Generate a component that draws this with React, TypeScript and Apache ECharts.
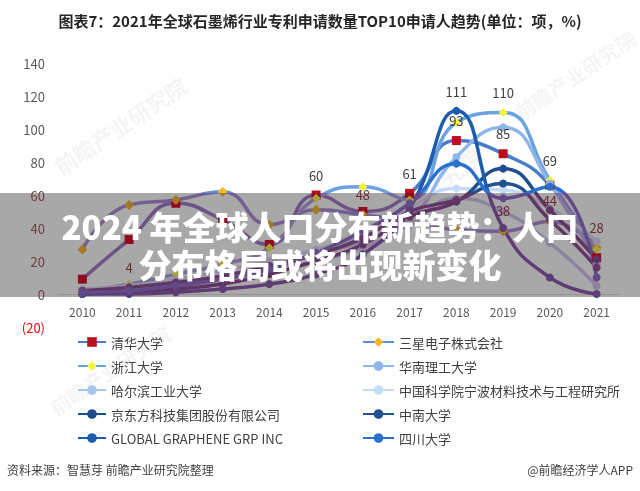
import React, { useEffect, useRef } from "react";
import * as echarts from "echarts";

const years = ["2010", "2011", "2012", "2013", "2014", "2015", "2016", "2017", "2018", "2019", "2020", "2021"];

const qinghua = [9, 33, 55, 45, 30, 60, 50, 61, 93, 85, 66, 22];
const samsung = [27, 54, 57, 62, 42, 51, 48, 44, 39, 38, 44, 28];
const zhejiang = [2, 6, 12, 18, 28, 58, 65, 57, 104, 110, 69, 27];
const huanan = [1, 3, 6, 10, 16, 24, 32, 45, 83, 101, 67, 18];
const harbin = [0, 4, 4, 8, 14, 20, 28, 42, 58, 50, 31, 5];
const ningbo = [3, 5, 9, 14, 20, 27, 36, 52, 64, 63, 52, 32];
const boe = [0, 1, 3, 6, 12, 20, 30, 47, 56, 76, 51, 21];
const zhongnan = [2, 4, 7, 11, 17, 24, 34, 50, 57, 67, 45, 16];
const globalG = [0, 0, 1, 3, 6, 12, 24, 52, 111, 40, 10, 0];
const sichuan = [1, 2, 5, 9, 15, 25, 38, 55, 79, 58, 65, 10];

const names = [
  "清华大学",
  "三星电子株式会社",
  "浙江大学",
  "华南理工大学",
  "哈尔滨工业大学",
  "中国科学院宁波材料技术与工程研究所",
  "京东方科技集团股份有限公司",
  "中南大学",
  "GLOBAL GRAPHENE GRP INC",
  "四川大学",
];

const FONT = "'Noto Sans CJK SC', 'Noto Sans', sans-serif";

function mk(
  name: string,
  data: number[],
  color: string,
  symbol: string,
  symColor: string,
  symbolSize: number,
  labelIdx: number[]
) {
  return {
    type: "line",
    name,
    smooth: 0.5,
    symbol,
    symbolSize,
    showSymbol: true,
    lineStyle: { width: 3.5, color },
    itemStyle: { color: symColor, borderWidth: 0 },
    emphasis: { disabled: true },
    label: {
      show: false,
      position: "top",
      distance: 9,
      fontSize: 13,
      color: "#404040",
      fontFamily: FONT,
    },
    data: data.map((v, i) => (labelIdx.includes(i) ? { value: v, label: { show: true } } : v)),
  };
}

export default function App() {
  const ref = useRef<HTMLDivElement>(null);
  useEffect(() => {
    document.body.style.margin = "0";
    if (!ref.current) return;
    const chart = echarts.init(ref.current, undefined, { renderer: "svg" });
    const wm = (x: number, y: number, size: number) => ({
      type: "text",
      x,
      y,
      rotation: (34 * Math.PI) / 180,
      style: {
        text: "前瞻产业研究院",
        fontSize: size,
        fontWeight: "bold",
        fill: "rgba(0,0,0,0.045)",
        fontFamily: FONT,
        align: "center",
        verticalAlign: "middle",
      },
      z: -1,
    });
    const legendCommon = {
      orient: "vertical",
      top: 330,
      itemHeight: 12,
      itemGap: 10,
      selectedMode: false,
      textStyle: { fontSize: 13, color: "#404040", lineHeight: 14, fontFamily: FONT },
    };
    chart.setOption({
      animation: false,
      backgroundColor: "#ffffff",
      title: {
        text: "图表7：2021年全球石墨烯行业专利申请数量TOP10申请人趋势(单位：项，%)",
        left: "center",
        top: 8,
        textStyle: { fontSize: 15, fontWeight: "bold", color: "#262626", fontFamily: FONT },
      },
      grid: { left: 59, right: 20, top: 63, bottom: 164 },
      legend: [
        { ...legendCommon, left: 72, itemWidth: 28, data: [names[0], names[2], names[4], names[6], names[8]] },
        { ...legendCommon, left: 357, itemWidth: 31, data: [names[1], names[3], names[5], names[7], names[9]] },
      ],
      xAxis: {
        type: "category",
        data: years,
        boundaryGap: true,
        offset: -33,
        axisLine: { show: true, onZero: false, lineStyle: { color: "#d9d9d9", width: 1 } },
        axisTick: { show: false },
        axisLabel: { color: "#595959", fontSize: 12, margin: 11, fontFamily: FONT },
      },
      yAxis: {
        type: "value",
        min: -20,
        max: 140,
        interval: 20,
        splitLine: { show: false },
        axisLine: { show: false },
        axisTick: { show: false },
        axisLabel: {
          color: "#595959",
          fontSize: 13,
          margin: 14,
          fontFamily: FONT,
          formatter: (v: number) => (v < 0 ? `{n|(${-v})}` : `${v}`),
          rich: { n: { color: "#ff0000", fontSize: 13, fontFamily: FONT } },
        },
      },
      graphic: [
        wm(120, 125, 22),
        wm(410, 200, 24),
        wm(575, 75, 20),
        wm(110, 370, 20),
        {
          type: "text",
          left: 7,
          top: 463,
          style: { text: "资料来源：智慧芽 前瞻产业研究院整理", fontSize: 12, fill: "#404040", fontFamily: FONT },
        },
        {
          type: "text",
          right: 7,
          top: 463,
          style: { text: "@前瞻经济学人APP", fontSize: 12, fill: "#404040", fontFamily: FONT },
        },
      ],
      series: [
        mk(names[0], qinghua, "#4a7cc8", "rect", "#b8101e", 9, [5, 7, 8, 9]),
        mk(names[1], samsung, "#5b8fd8", "diamond", "#f0b828", 10, [6, 9, 10, 11]),
        mk(names[2], zhejiang, "#6aa2e4", "diamond", "#f4f43c", 9, [9, 10]),
        mk(names[3], huanan, "#8fb6ea", "circle", "#8fb6ea", 8, []),
        mk(names[4], harbin, "#a9c7ee", "circle", "#a9c7ee", 8, [1]),
        mk(names[5], ningbo, "#c6dbf4", "circle", "#c6dbf4", 8, []),
        mk(names[6], boe, "#1f4e8c", "circle", "#1f4e8c", 8, []),
        mk(names[7], zhongnan, "#21528f", "circle", "#21528f", 8, []),
        mk(names[8], globalG, "#1d5cab", "circle", "#1d5cab", 8, [8]),
        mk(names[9], sichuan, "#2a70cc", "circle", "#2a70cc", 8, []),
      ],
    });
    return () => chart.dispose();
  }, []);

  return (
    <div style={{ position: "relative", width: 640, height: 491, background: "#fff", overflow: "hidden" }}>
      <div ref={ref} style={{ position: "absolute", left: 0, top: 0, width: 640, height: 491 }} />
      <div
        style={{
          position: "absolute",
          left: 0,
          top: 193,
          width: 640,
          height: 104,
          background: "rgb(128,0,20)",
          mixBlendMode: "screen",
        }}
      />
      <div
        style={{
          position: "absolute",
          left: 0,
          top: 193,
          width: 640,
          height: 104,
          background: "rgb(168,168,168)",
          mixBlendMode: "multiply",
        }}
      />
      <div
        style={{
          position: "absolute",
          left: 0,
          top: 193,
          width: 640,
          height: 104,
          boxSizing: "border-box",
          paddingTop: 14,
          textAlign: "center",
          color: "#ffffff",
          fontFamily: FONT,
          fontWeight: 900,
          fontSize: 33,
          lineHeight: "38px",
          whiteSpace: "nowrap",
        }}
      >
        <div>2024 年全球人口分布新趋势：人口</div>
        <div>分布格局或将出现新变化</div>
      </div>
    </div>
  );
}
